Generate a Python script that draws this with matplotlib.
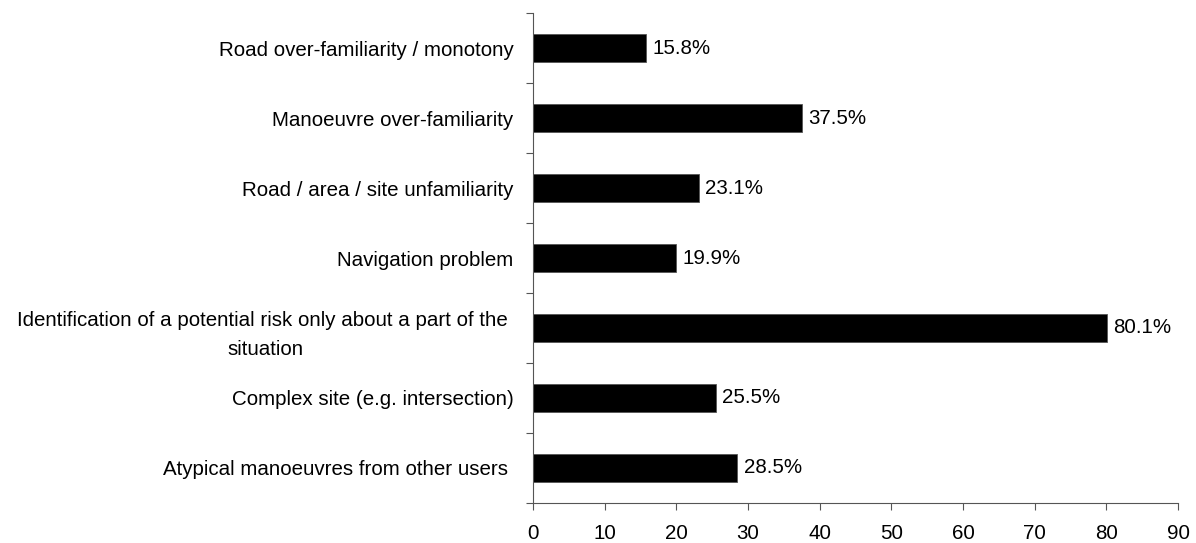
import matplotlib.pyplot as plt
import numpy as np

plt.rcParams['font.family'] = ['Liberation Sans', 'DejaVu Sans']

# categories listed top to bottom
categories = [
    'Road over-familiarity / monotony',
    'Manoeuvre over-familiarity',
    'Road / area / site unfamiliarity',
    'Navigation problem',
    'Identification of a potential risk only about a part of the \nsituation',
    'Complex site (e.g. intersection)',
    'Atypical manoeuvres from other users ',
]
values = [15.8, 37.5, 23.1, 19.9, 80.1, 25.5, 28.5]
xticks = [0, 10, 20, 30, 40, 50, 60, 70, 80, 90]

fs = 14.8

fig = plt.figure(figsize=(11.96, 5.43), dpi=100)
ax = fig.add_axes([0.4457, 0.0737, 0.5393, 0.9023])

n = len(categories)
y = np.arange(n)[::-1]
ax.barh(y, values, height=0.41, color='black', edgecolor='#555555', linewidth=0.6)

for yi, v in zip(y, values):
    ax.text(v + 0.9, yi, f'{v:.1f}%', va='center', ha='left', fontsize=fs)

ax.set_xlim(0, 90)
ax.set_ylim(-0.5, n - 0.5)
ax.set_xticks(xticks)
ax.set_xticklabels([str(t) for t in xticks], fontsize=fs)

# category labels centred on bars, ticks on the boundaries between them
ax.set_yticks(y)
ax.set_yticklabels(categories, fontsize=fs, multialignment='center', linespacing=1.65)
ax.tick_params(axis='y', which='major', length=0, pad=14)
ax.set_yticks(np.arange(-0.5, n, 1), minor=True)
ax.tick_params(axis='y', which='minor', length=5, width=0.8, color='#555555')
ax.tick_params(axis='x', length=5, width=0.8, color='#555555', pad=10)

for side in ['top', 'right']:
    ax.spines[side].set_visible(False)
for side in ['left', 'bottom']:
    ax.spines[side].set_color('#555555')
    ax.spines[side].set_linewidth(0.8)

fig.savefig('out.png', dpi=100)
